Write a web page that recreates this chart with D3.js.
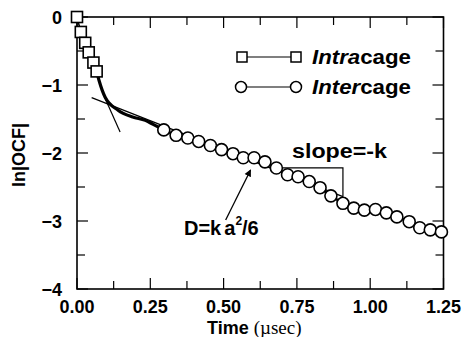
<!DOCTYPE html>
<html>
<head>
<meta charset="utf-8">
<script src="https://cdn.jsdelivr.net/npm/d3@7"></script>
<style>
  body { margin: 0; background: #fff; }
  text { font-family: "Liberation Sans", Arial, sans-serif; font-weight: bold; fill: #000; }
</style>
</head>
<body>
<svg id="chart" width="463" height="337"></svg>
<script>
// intracage (squares)
const intraT = [0, 0.013, 0.028, 0.040, 0.056, 0.067];
const intraY = [0, -0.22, -0.38, -0.52, -0.67, -0.80];

// intercage (circles)
const interT = [0.296, 0.338, 0.378, 0.415, 0.455, 0.493, 0.532, 0.567, 0.604, 0.641,
                0.680, 0.718, 0.754, 0.792, 0.829, 0.866, 0.907, 0.944, 0.980, 1.018,
                1.055, 1.091, 1.133, 1.169, 1.205, 1.243];
const interY = [-1.66, -1.74, -1.78, -1.83, -1.89, -1.95, -2.01, -2.07, -2.07, -2.13,
                -2.22, -2.32, -2.35, -2.42, -2.51, -2.63, -2.74, -2.81, -2.84, -2.83,
                -2.88, -2.94, -3.01, -3.10, -3.13, -3.16];

// raw curve between the two regimes
const rawT = [0.067, 0.075, 0.096, 0.140, 0.190, 0.233, 0.260, 0.296];
const rawY = [-0.80, -0.93, -1.18, -1.37, -1.47, -1.52, -1.58, -1.66];

// fitted long-time line, short-time tangent, slope triangle
const fitLine = [[0.05, -1.185], [0.907, -2.642]];
const tangent = [[0.093, -1.17], [0.147, -1.69]];
const slopeTri = [[0.659, -2.22], [0.907, -2.22], [0.907, -2.642]];
const arrowPts = [[0.507, -2.985], [0.592, -2.25]];

const xTicks = [0, 0.25, 0.5, 0.75, 1.0, 1.25];
const xMinor = [0.125, 0.375, 0.625, 0.875, 1.125];
const yTicks = [0, -1, -2, -3, -4];
const yMinor = [-0.5, -1.5, -2.5, -3.5];

const svg = d3.select("#chart");
const x = d3.scaleLinear().domain([0, 1.25]).range([77, 443.5]);
const y = d3.scaleLinear().domain([-4, 0]).range([289, 17]);

const defs = svg.append("defs");
defs.append("marker")
    .attr("id", "arrow")
    .attr("viewBox", "0 0 10 10")
    .attr("refX", 9).attr("refY", 5)
    .attr("markerWidth", 7).attr("markerHeight", 8)
    .attr("markerUnits", "userSpaceOnUse")
    .attr("orient", "auto")
    .append("path")
    .attr("d", "M0,0L10,5L0,10z")
    .attr("fill", "#000");

// frame
svg.append("rect")
    .attr("x", x(0)).attr("y", y(0))
    .attr("width", x(1.25) - x(0)).attr("height", y(-4) - y(0))
    .attr("fill", "none").attr("stroke", "#000").attr("stroke-width", 1.6);

// ticks on all four sides, pointing in
const tickG = svg.append("g").attr("stroke", "#000").attr("stroke-width", 1.2);
function xt(vals, len) {
  vals.forEach(v => {
    tickG.append("line").attr("x1", x(v)).attr("x2", x(v)).attr("y1", y(-4)).attr("y2", y(-4) - len);
    tickG.append("line").attr("x1", x(v)).attr("x2", x(v)).attr("y1", y(0)).attr("y2", y(0) + len);
  });
}
function yt(vals, len) {
  vals.forEach(v => {
    tickG.append("line").attr("y1", y(v)).attr("y2", y(v)).attr("x1", x(0)).attr("x2", x(0) + len);
    tickG.append("line").attr("y1", y(v)).attr("y2", y(v)).attr("x1", x(1.25)).attr("x2", x(1.25) - len);
  });
}
xt(xTicks, 11); xt(xMinor, 8);
yt(yTicks, 11); yt(yMinor, 8);

// tick labels
svg.append("g").selectAll("text").data(xTicks).join("text")
    .attr("x", d => x(d)).attr("y", 313)
    .attr("text-anchor", "middle").attr("font-size", 18)
    .attr("textLength", 35).attr("lengthAdjust", "spacingAndGlyphs")
    .text(d => d3.format(".2f")(d));
svg.append("g").selectAll("text").data(yTicks).join("text")
    .attr("x", 62).attr("y", d => y(d) + 6.5)
    .attr("text-anchor", "end").attr("font-size", 18)
    .text(d => d === 0 ? "0" : "\u2212" + Math.abs(d));

// axis titles
const xl = svg.append("text").attr("x", 207).attr("y", 334).attr("font-size", 18);
xl.append("tspan").text("Time ");
xl.append("tspan").attr("font-family", "'Liberation Serif', 'Times New Roman', serif")
    .attr("font-weight", "normal").attr("font-size", 19).text("(\u00b5sec)");
svg.append("text")
    .attr("transform", "translate(25,155) rotate(-90)")
    .attr("text-anchor", "middle").attr("font-size", 18)
    .text("ln|OCF|");

const line = d3.line().x(d => x(d[0])).y(d => y(d[1]));

// thin fit lines and slope triangle
svg.append("path").attr("d", line(fitLine)).attr("fill", "none").attr("stroke", "#000").attr("stroke-width", 1.2);
svg.append("path").attr("d", line(tangent)).attr("fill", "none").attr("stroke", "#000").attr("stroke-width", 1.2);
svg.append("path").attr("d", line(slopeTri)).attr("fill", "none").attr("stroke", "#000").attr("stroke-width", 1.2);

// thick raw curve
const rawPts = rawT.map((t, i) => [t, rawY[i]]);
svg.append("path")
    .attr("d", d3.line().x(d => x(d[0])).y(d => y(d[1])).curve(d3.curveMonotoneX)(rawPts))
    .attr("fill", "none").attr("stroke", "#000").attr("stroke-width", 3.2);

// intercage circles
const interPts = interT.map((t, i) => [t, interY[i]]);
svg.append("path").attr("d", line(interPts)).attr("fill", "none").attr("stroke", "#000").attr("stroke-width", 2.5);
svg.append("g").selectAll("circle").data(interPts).join("circle")
    .attr("cx", d => x(d[0])).attr("cy", d => y(d[1])).attr("r", 6)
    .attr("fill", "#fff").attr("stroke", "#000").attr("stroke-width", 1.6);

// intracage squares
const intraPts = intraT.map((t, i) => [t, intraY[i]]);
svg.append("path").attr("d", line(intraPts)).attr("fill", "none").attr("stroke", "#000").attr("stroke-width", 1.5);
svg.append("g").selectAll("rect").data(intraPts).join("rect")
    .attr("x", d => x(d[0]) - 5.5).attr("y", d => y(d[1]) - 5.5)
    .attr("width", 11).attr("height", 11)
    .attr("fill", "#fff").attr("stroke", "#000").attr("stroke-width", 1.6);

// legend
const lg = svg.append("g");
lg.append("line").attr("x1", 242).attr("x2", 296).attr("y1", 57).attr("y2", 57).attr("stroke", "#000").attr("stroke-width", 1.2);
[242, 296].forEach(cx => lg.append("rect").attr("x", cx - 5).attr("y", 52).attr("width", 10).attr("height", 10)
    .attr("fill", "#fff").attr("stroke", "#000").attr("stroke-width", 1.5));
lg.append("line").attr("x1", 241).attr("x2", 296).attr("y1", 87).attr("y2", 87).attr("stroke", "#000").attr("stroke-width", 1.2);
[241, 296].forEach(cx => lg.append("circle").attr("cx", cx).attr("cy", 87).attr("r", 5.5)
    .attr("fill", "#fff").attr("stroke", "#000").attr("stroke-width", 1.5));
const t1 = lg.append("text").attr("x", 312).attr("y", 64).attr("font-size", 20)
    .attr("textLength", 99).attr("lengthAdjust", "spacingAndGlyphs");
t1.append("tspan").attr("font-style", "italic").text("Intra");
t1.append("tspan").text("cage");
const t2 = lg.append("text").attr("x", 312).attr("y", 94).attr("font-size", 20)
    .attr("textLength", 99).attr("lengthAdjust", "spacingAndGlyphs");
t2.append("tspan").attr("font-style", "italic").text("Inter");
t2.append("tspan").text("cage");

// annotations
svg.append("text").attr("x", 292).attr("y", 158).attr("font-size", 20)
    .attr("textLength", 95).attr("lengthAdjust", "spacingAndGlyphs")
    .text("slope=-k");
const dt = svg.append("text").attr("x", 184).attr("y", 235).attr("font-size", 20);
dt.append("tspan").text("D=k");
dt.append("tspan").attr("dx", 3).text("a");
dt.append("tspan").attr("dy", -10).attr("font-size", 12).text("2");
dt.append("tspan").attr("dy", 10).text("/6");
svg.append("path").attr("d", line(arrowPts))
    .attr("fill", "none").attr("stroke", "#000").attr("stroke-width", 1.3)
    .attr("marker-end", "url(#arrow)");
</script>
</body>
</html>
